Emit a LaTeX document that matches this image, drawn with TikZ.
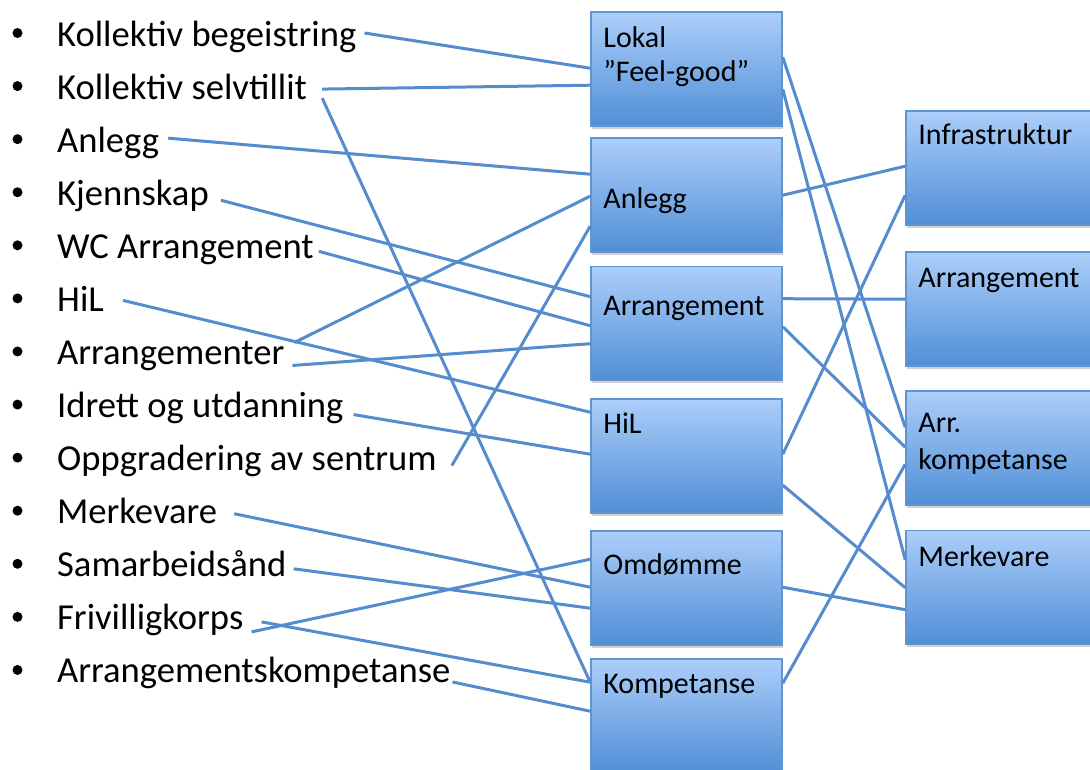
\documentclass[tikz,border=0pt]{standalone}
\usepackage{fontspec}
\setmainfont{Carlito}
\usetikzlibrary{shadows}

\definecolor{linkblue}{RGB}{84,140,206}
\definecolor{boxtop}{RGB}{172,206,250}
\definecolor{boxbot}{RGB}{80,143,214}
\definecolor{boxedge}{RGB}{98,148,206}

\tikzset{
  item/.style={anchor=base west, inner sep=0pt, font=\fontsize{36.6}{44}\selectfont},
  dot/.style={circle, fill=black, inner sep=0pt, minimum size=10pt},
  panel/.style={draw=boxedge, line width=1.6pt, top color=boxtop, bottom color=boxbot,
    minimum width=191pt, minimum height=114pt, inner sep=0pt,
    drop shadow={shadow xshift=0.5pt, shadow yshift=-2.5pt, opacity=0.3, fill=black!60}},
  paneltext/.style={anchor=base west, inner sep=0pt, font=\fontsize{30}{34}\selectfont},
  link/.style={draw=linkblue, line width=3pt},
}

\begin{document}
\begin{tikzpicture}[x=1pt, y=-1pt]
\useasboundingbox (0,0) rectangle (1090,769);
\clip (0,0) rectangle (1090,769);

% middle column
\node[panel] (lokal)  at (686.5,69)  {};
\node[panel] (anlegg) at (686.5,195) {};
\node[panel] (arr)    at (686.5,323.5) {};
\node[panel] (hil)    at (686.5,456) {};
\node[panel] (omd)    at (686.5,588) {};
\node[panel] (komp)   at (686.5,716) {};

% right column
\node[panel] (infra) at (1001.5,168) {};
\node[panel] (arrR)  at (1001.5,309) {};
\node[panel] (arrk)  at (1001.5,448) {};
\node[panel] (merk)  at (1001.5,587.5) {};

% panel captions
\node[paneltext] (tl1) at ([xshift=13pt,yshift=-36pt]lokal.north west) {Lokal};
\node[paneltext] (tl2) at ([xshift=13pt,yshift=-70pt]lokal.north west) {”Feel-good”};
\node[paneltext] (ta)  at ([xshift=13pt,yshift=-71pt]anlegg.north west) {Anlegg};
\node[paneltext] (tr)  at ([xshift=13pt,yshift=-50pt]arr.north west) {Arrangement};
\node[paneltext] (th)  at ([xshift=13pt,yshift=-35pt]hil.north west) {HiL};
\node[paneltext] (to)  at ([xshift=13pt,yshift=-44pt]omd.north west) {Omdømme};
\node[paneltext] (tk)  at ([xshift=13pt,yshift=-35pt]komp.north west) {Kompetanse};
\node[paneltext] (ti)  at ([xshift=13pt,yshift=-34pt]infra.north west) {Infrastruktur};
\node[paneltext] (tR)  at ([xshift=13pt,yshift=-36pt]arrR.north west) {Arrangement};
\node[paneltext] (tk1) at ([xshift=13pt,yshift=-42pt]arrk.north west) {Arr.};
\node[paneltext] (tk2) at ([xshift=13pt,yshift=-79pt]arrk.north west) {kompetanse};
\node[paneltext] (tm)  at ([xshift=13pt,yshift=-37pt]merk.north west) {Merkevare};

% bullet list
\foreach \name/\txt [count=\k] in {
    i1/Kollektiv begeistring, i2/Kollektiv selvtillit, i3/Anlegg, i4/Kjennskap,
    i5/WC Arrangement, i6/HiL, i7/Arrangementer, i8/Idrett og utdanning,
    i9/Oppgradering av sentrum, i10/Merkevare, i11/Samarbeidsånd,
    i12/Frivilligkorps, i13/Arrangementskompetanse} {
  \pgfmathsetmacro{\yy}{46+53.08*(\k-1)}
  \node[item] (\name) at (57,\yy) {\txt};
  \node[dot] (b\k) at (17.5,\yy-13) {};
}

% list items to middle column
\draw[link] ([xshift=8pt,yshift=13pt]i1.base east)  -- ([yshift=-57pt]lokal.north west);
\draw[link] ([xshift=15pt,yshift=10pt]i2.base east) -- ([yshift=-74pt]lokal.north west);
\draw[link] ([xshift=15pt,yshift=1pt]i2.base east)  -- ([yshift=-24pt]komp.north west);
\draw[link] ([xshift=9pt,yshift=14pt]i3.base east)  -- ([yshift=-37pt]anlegg.north west);
\draw[link] ([xshift=12pt,yshift=5pt]i4.base east)  -- ([yshift=-31pt]arr.north west);
\draw[link] ([xshift=5pt,yshift=7pt]i5.base east)   -- ([yshift=-60pt]arr.north west);
\draw[link] ([xshift=19pt,yshift=11pt]i6.base east) -- ([yshift=-14pt]hil.north west);
\draw[link] ([xshift=10pt,yshift=22pt]i7.base east) -- ([yshift=-59pt]anlegg.north west);
\draw[link] ([xshift=8pt,yshift=-1pt]i7.base east)  -- ([yshift=-78pt]arr.north west);
\draw[link] ([xshift=10pt,yshift=3pt]i8.base east)  -- ([yshift=-56pt]hil.north west);
\draw[link] ([xshift=15pt,yshift=5pt]i9.base east)  -- ([yshift=-89pt]anlegg.north west);
\draw[link] ([xshift=17pt,yshift=10pt]i10.base east) -- ([yshift=-57pt]omd.north west);
\draw[link] ([xshift=7pt,yshift=8pt]i11.base east)  -- ([yshift=-78pt]omd.north west);
\draw[link] ([xshift=8pt,yshift=-2pt]i12.base east) -- ([yshift=-29pt]omd.north west);
\draw[link] ([xshift=18pt,yshift=8pt]i12.base east) -- ([yshift=-24pt]komp.north west);
\draw[link] ([xshift=2pt,yshift=1pt]i13.base east)  -- ([yshift=-53pt]komp.north west);

% middle column to right column
\draw[link] ([yshift=-46pt]lokal.north east)  -- ([yshift=-37pt]arrk.north west);
\draw[link] ([yshift=-78pt]lokal.north east)  -- ([yshift=-30pt]merk.north west);
\draw[link] ([yshift=-58pt]anlegg.north east) -- ([yshift=-56pt]infra.north west);
\draw[link] ([yshift=-33pt]arr.north east)    -- ([yshift=-48pt]arrR.north west);
\draw[link] ([yshift=-61pt]arr.north east)    -- ([yshift=-57pt]arrk.north west);
\draw[link] ([yshift=-56pt]hil.north east)    -- ([yshift=-85pt]infra.north west);
\draw[link] ([yshift=-87pt]hil.north east)    -- ([yshift=-58pt]merk.north west);
\draw[link] ([yshift=-57pt]omd.north east)    -- ([yshift=-80pt]merk.north west);
\draw[link] ([yshift=-25pt]komp.north east)   -- ([yshift=-74pt]arrk.north west);
\end{tikzpicture}
\end{document}
